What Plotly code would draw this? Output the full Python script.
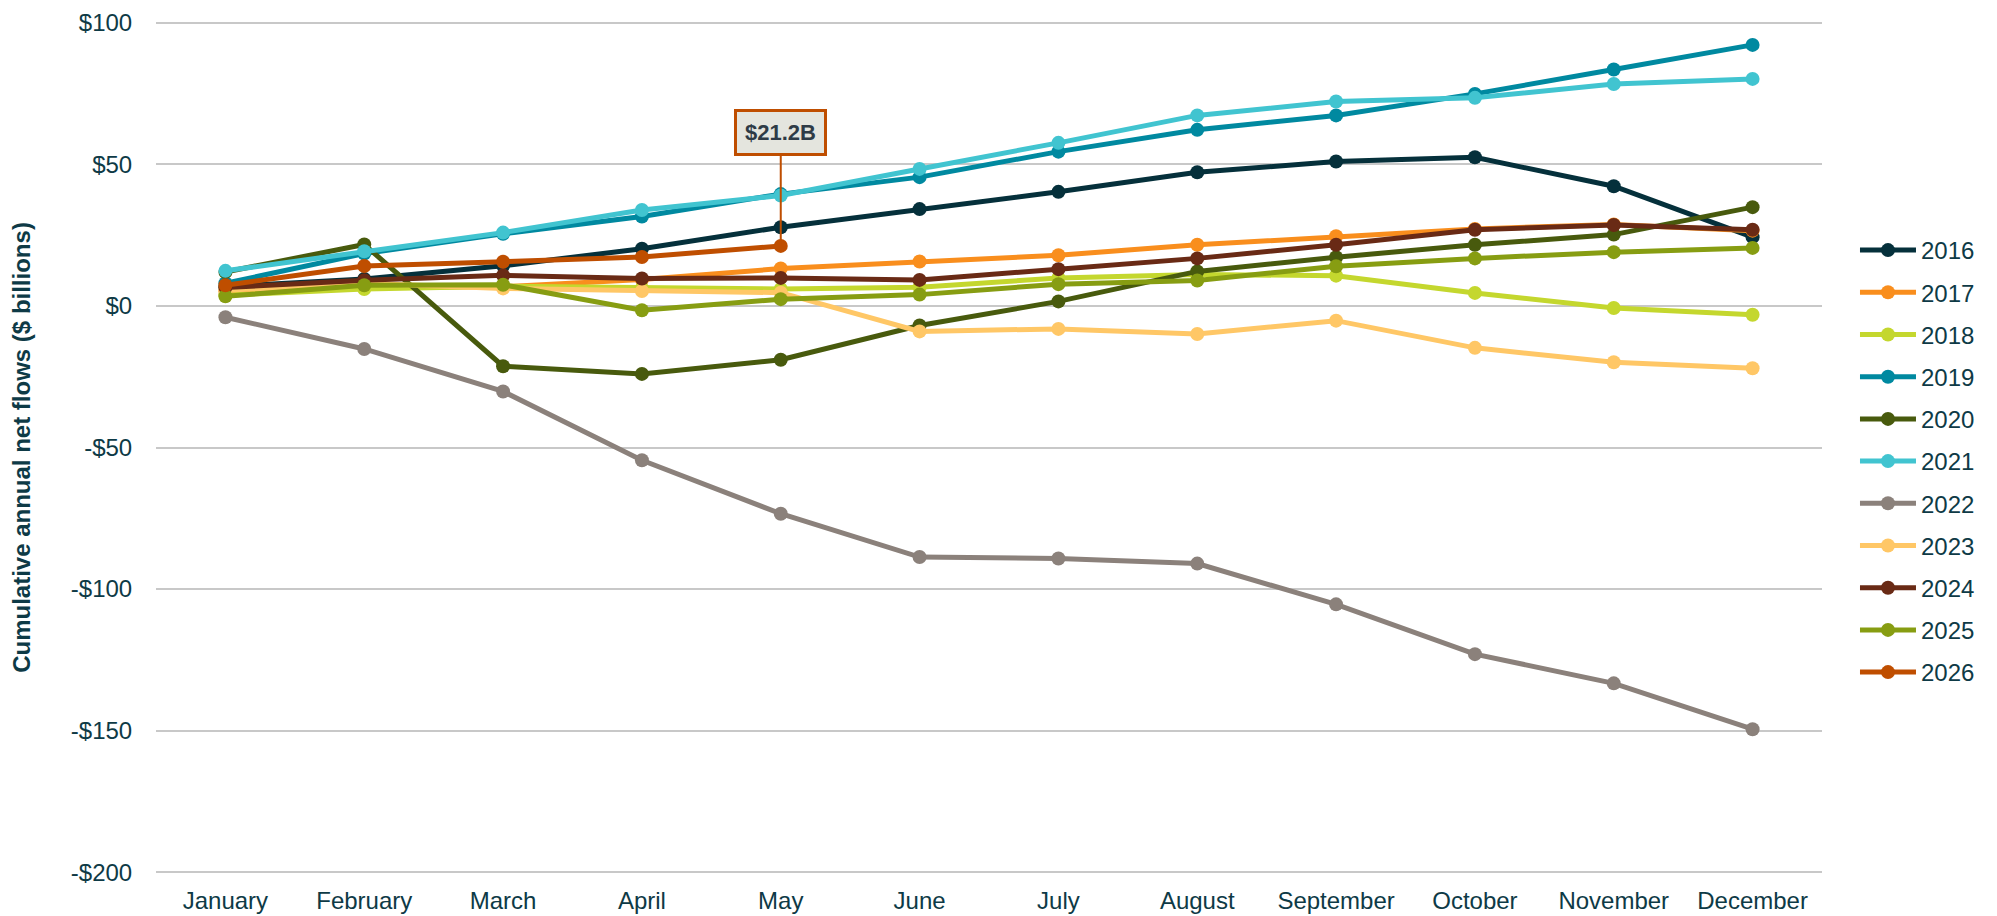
import plotly.graph_objects as go

months = ["January", "February", "March", "April", "May", "June", "July",
          "August", "September", "October", "November", "December"]

y2016 = [6.8, 9.5, 14.2, 20.2, 27.8, 34.2, 40.3, 47.2, 51.0, 52.5, 42.3, 24.3]
y2017 = [5.2, 6.6, 6.8, 9.3, 13.2, 15.7, 17.9, 21.6, 24.6, 27.2, 28.8, 26.6]
y2018 = [3.8, 6.0, 7.0, 6.3, 6.0, 6.6, 9.9, 11.1, 10.7, 4.6, -0.7, -3.1]
y2019 = [8.0, 18.5, 25.5, 31.6, 39.5, 45.5, 54.5, 62.2, 67.3, 74.9, 83.5, 92.2]
y2020 = [12.0, 21.7, -21.3, -24.0, -19.0, -6.9, 1.6, 12.2, 17.2, 21.6, 25.2, 34.9]
y2021 = [12.4, 19.3, 25.9, 33.9, 39.0, 48.4, 57.6, 67.3, 72.2, 73.5, 78.4, 80.2]
y2022 = [-4.0, -15.2, -30.2, -54.5, -73.4, -88.7, -89.2, -91.0, -105.4, -123.0, -133.3, -149.5]
y2023 = [5.5, 8.0, 6.2, 5.3, 4.7, -9.0, -8.1, -9.9, -5.2, -14.8, -19.9, -22.0]
y2024 = [6.5, 9.1, 10.8, 9.7, 9.9, 9.2, 13.0, 16.8, 21.6, 26.9, 28.6, 26.9]
y2025 = [3.4, 7.3, 7.5, -1.5, 2.4, 4.0, 7.7, 9.0, 14.0, 16.8, 19.0, 20.5]
y2026 = [7.3, 14.1, 15.6, 17.3, 21.2]

years = ["2016", "2017", "2018", "2019", "2020", "2021", "2022", "2023", "2024", "2025", "2026"]
series = [y2016, y2017, y2018, y2019, y2020, y2021, y2022, y2023, y2024, y2025, y2026]
colors = ["#05303B", "#F98E1D", "#C4D72E", "#0089A0", "#485A0D", "#41C4D0",
          "#8B817B", "#FFC766", "#692A15", "#879D12", "#BF4E00"]

ytick_vals = [100, 50, 0, -50, -100, -150, -200]
ytick_text = ["$100", "$50", "$0", "-$50", "-$100", "-$150", "-$200"]

callout_month = "May"
callout_value = 21.2
callout_text = "$21.2B"

text_color = "#0E3A46"
font_family = "Liberation Sans, Arial, sans-serif"

fig = go.Figure()
for yr, vals, col in zip(years, series, colors):
    fig.add_trace(go.Scatter(
        x=months[:len(vals)], y=vals, name=yr, mode="lines+markers",
        legendgroup=yr,
        line=dict(color=col, width=5),
        marker=dict(color=col, size=14),
    ))

fig.add_annotation(
    x=callout_month, y=callout_value, text="<b>" + callout_text + "</b>",
    showarrow=True, arrowhead=0, arrowwidth=2, arrowcolor="#BF4E00",
    ax=0, ay=-113, standoff=0,
    bgcolor="#E4E5DE", bordercolor="#BF4E00", borderwidth=3, borderpad=8,
    font=dict(family=font_family, size=22, color="#2E3B46"),
)

fig.update_layout(
    width=1989, height=908,
    margin=dict(l=148, r=175, t=12, b=41),
    paper_bgcolor="white", plot_bgcolor="white",
    font=dict(family=font_family, size=24, color=text_color),
    showlegend=True,
    legend=dict(
        x=1.0198, xanchor="left", y=0.4836, yanchor="middle",
        font=dict(family=font_family, size=24, color=text_color),
        tracegroupgap=8, itemwidth=56, bgcolor="rgba(0,0,0,0)",
    ),
    xaxis=dict(
        type="category", range=[-0.5, 11.5], showgrid=False, showline=False,
        zeroline=False, automargin=False,
        ticks="outside", ticklen=4, tickcolor="rgba(0,0,0,0)",
        tickfont=dict(family=font_family, size=24, color=text_color),
    ),
    yaxis=dict(
        range=[-201, 101], tickvals=ytick_vals, ticktext=ytick_text,
        showgrid=True, gridcolor="#C8C8C8", gridwidth=2,
        zeroline=False, showline=False, automargin=False,
        ticks="outside", ticklen=18, tickcolor="rgba(0,0,0,0)",
        tickfont=dict(family=font_family, size=24, color=text_color),
        title=dict(text="<b>Cumulative annual net flows ($ billions)</b>",
                   font=dict(family=font_family, size=24, color=text_color),
                   standoff=38),
    ),
)

fig.write_html("out.html")
